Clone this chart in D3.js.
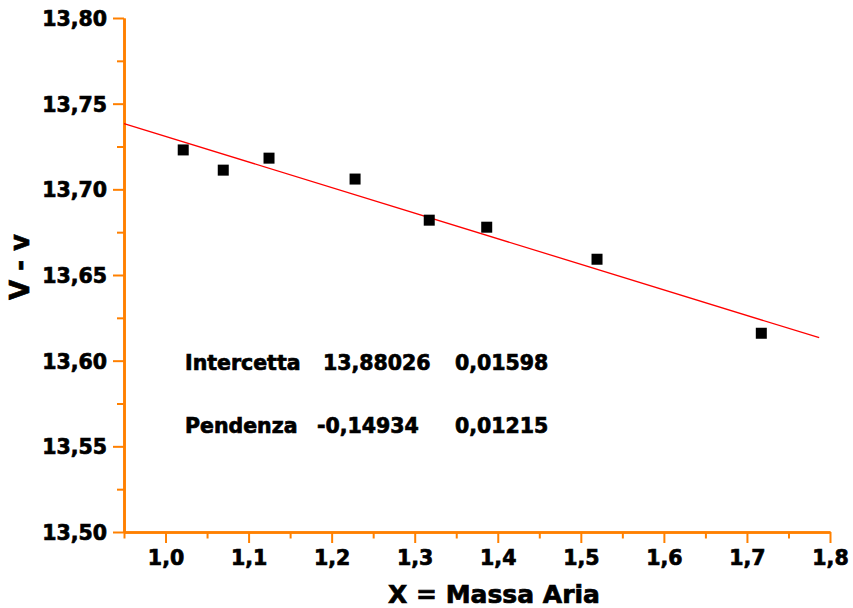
<!DOCTYPE html>
<html>
<head>
<meta charset="utf-8">
<script src="https://cdn.jsdelivr.net/npm/d3@7/dist/d3.min.js"></script>
<style>
  html, body { margin: 0; padding: 0; background: #fff; }
  svg { display: block; }
  text { font-family: "DejaVu Sans", sans-serif; font-weight: bold; fill: #000; stroke: #000; stroke-width: 0.7px; }
</style>
</head>
<body>
<svg id="chart" width="853" height="608"></svg>
<script>
// Air mass vs. instrumental magnitude difference
const airMass  = [1.0213, 1.0695, 1.1246, 1.2282, 1.3175, 1.3867, 1.5195, 1.7173];
const deltaMag = [13.7230, 13.7112, 13.7182, 13.7060, 13.6820, 13.6779, 13.6592, 13.6160];

// Linear fit parameters and the x span of the fitted line
const fitIntercept = 13.88026;
const fitSlope = -0.14934;
const fitRange = [0.95, 1.787];

// Fit result table
const fitNames  = ["Intercetta", "Pendenza"];
const fitValues = ["13,88026", "-0,14934"];
const fitErrors = ["0,01598", "0,01215"];

// Axis ticks
const xTicks = [1.0, 1.1, 1.2, 1.3, 1.4, 1.5, 1.6, 1.7, 1.8];
const xTickLabels = ["1,0", "1,1", "1,2", "1,3", "1,4", "1,5", "1,6", "1,7", "1,8"];
const xMinorTicks = [0.95, 1.05, 1.15, 1.25, 1.35, 1.45, 1.55, 1.65, 1.75];
const yTicks = [13.50, 13.55, 13.60, 13.65, 13.70, 13.75, 13.80];
const yTickLabels = ["13,50", "13,55", "13,60", "13,65", "13,70", "13,75", "13,80"];
const yMinorTicks = [13.525, 13.575, 13.625, 13.675, 13.725, 13.775];

const xTitle = "X = Massa Aria";
const yTitle = "V - v";

const axisColor = "#ff8000";
const svg = d3.select("#chart");

const x = d3.scaleLinear().domain([0.95, 1.8]).range([124, 830]);
const y = d3.scaleLinear().domain([13.50, 13.80]).range([532, 18]);

function styleAxis(g) {
  g.select(".domain").attr("stroke", axisColor).attr("stroke-width", 2.6);
  g.selectAll(".tick line").attr("stroke", axisColor).attr("stroke-width", 2);
}

// minor ticks
svg.append("g")
  .attr("transform", `translate(0,${y(13.5)})`)
  .call(d3.axisBottom(x).tickValues(xMinorTicks).tickSize(6.5).tickSizeOuter(0).tickFormat(""))
  .call(styleAxis);
svg.append("g")
  .attr("transform", `translate(${x(0.95)},0)`)
  .call(d3.axisLeft(y).tickValues(yMinorTicks).tickSize(7).tickSizeOuter(0).tickFormat(""))
  .call(styleAxis);

// major ticks with labels
const gx = svg.append("g")
  .attr("transform", `translate(0,${y(13.5)})`)
  .call(d3.axisBottom(x).tickValues(xTicks).tickSize(11).tickSizeOuter(0)
    .tickFormat((d, i) => xTickLabels[i]))
  .call(styleAxis);
gx.selectAll(".tick text")
  .attr("y", 33).attr("dy", null)
  .attr("font-size", 20.5).attr("font-family", "DejaVu Sans").attr("font-weight", "bold")
  .attr("fill", "#000");

const gy = svg.append("g")
  .attr("transform", `translate(${x(0.95)},0)`)
  .call(d3.axisLeft(y).tickValues(yTicks).tickSize(11).tickSizeOuter(0)
    .tickFormat((d, i) => yTickLabels[i]))
  .call(styleAxis);
gy.selectAll(".tick text")
  .attr("x", -17).attr("dy", "0.36em")
  .attr("font-size", 20.5).attr("font-family", "DejaVu Sans").attr("font-weight", "bold")
  .attr("fill", "#000");

// fitted line
svg.append("line")
  .attr("x1", x(fitRange[0])).attr("y1", y(fitIntercept + fitSlope * fitRange[0]))
  .attr("x2", x(fitRange[1])).attr("y2", y(fitIntercept + fitSlope * fitRange[1]))
  .attr("stroke", "#ff0000").attr("stroke-width", 1.3);

// data points
const side = 11;
svg.append("g").selectAll("rect")
  .data(airMass.map((d, i) => [d, deltaMag[i]]))
  .join("rect")
  .attr("x", d => x(d[0]) - side / 2)
  .attr("y", d => y(d[1]) - side / 2)
  .attr("width", side).attr("height", side)
  .attr("fill", "#000");

// fit table
const rowY = [370, 433];
const table = svg.append("g").attr("font-size", 20.5);
fitNames.forEach((name, i) => {
  table.append("text").attr("x", 185).attr("y", rowY[i]).text(name);
  table.append("text").attr("x", i === 0 ? 323 : 317).attr("y", rowY[i]).text(fitValues[i]);
  table.append("text").attr("x", 455).attr("y", rowY[i]).text(fitErrors[i]);
});

// axis titles
svg.append("text")
  .attr("x", 494).attr("y", 603)
  .attr("text-anchor", "middle").attr("font-size", 25)
  .text(xTitle);
svg.append("text")
  .attr("transform", "translate(29,267) rotate(-90)")
  .attr("text-anchor", "middle").attr("font-size", 26)
  .text(yTitle);
</script>
</body>
</html>
